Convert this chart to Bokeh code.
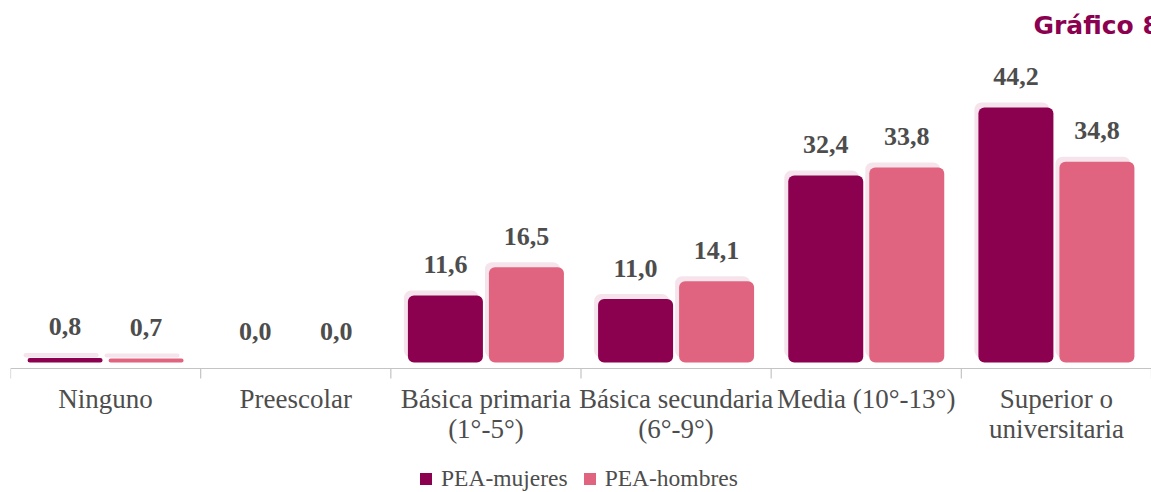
from bokeh.plotting import figure
from bokeh.models import Range1d, ColumnDataSource, Legend, LegendItem, Label, Span
from bokeh.core.properties import value
from bokeh.embed import file_html
from bokeh.resources import INLINE

# ---- data ----
categories = ["Ninguno", "Preescolar", "Básica primaria\n(1°-5°)",
              "Básica secundaria\n(6°-9°)", "Media (10°-13°)", "Superior o\nuniversitaria"]
mujeres = [0.8, 0.0, 11.6, 11.0, 32.4, 44.2]
hombres = [0.7, 0.0, 16.5, 14.1, 33.8, 34.8]
series_names = ["PEA-mujeres", "PEA-hombres"]
colors = ["#8c0050", "#e0647f"]
shadow_color = "#f6e4ec"
text_color = "#4d4d4d"
axis_color = "#c4c4c4"
serif = "Liberation Serif"

FW, FH = 1141, 484
PX_Y = 5.769                      # pixels per percentage point
Y1 = 354 / PX_Y                   # headroom above zero
Y0 = -130 / PX_Y                  # room below zero for axis, labels and legend
n = len(categories)
px_x = FW / n
px_y = FH / (Y1 - Y0)

p = figure(frame_width=FW, frame_height=FH, x_range=Range1d(0, n), y_range=Range1d(Y0, Y1),
           output_backend="svg", toolbar_location=None,
           x_axis_location=None, y_axis_location=None,
           min_border_left=10, min_border_right=0, min_border_top=8, min_border_bottom=0)
p.outline_line_color = None
p.xgrid.grid_line_color = None
p.ygrid.grid_line_color = None
p.background_fill_color = "white"
p.border_fill_color = "white"

centers = [i + 0.5 for i in range(n)]
bounds = [i for i in range(n + 1)]
off = 40.5 / px_x
bw = 75 / px_x
sx = 4 / px_x
sy = 5 / px_y
axis_y = -6 / px_y

# category axis: baseline, boundary ticks and labels
p.add_layout(Span(location=axis_y, dimension="width", line_color=axis_color, line_width=1.2))
p.segment(x0=bounds, y0=[axis_y] * len(bounds), x1=bounds, y1=[axis_y - 10 / px_y] * len(bounds),
          line_color=axis_color, line_width=1.2)
p.text(x=centers, y=[axis_y] * n, text=categories, y_offset=15,
       text_align="center", text_baseline="top", text_line_height=1.0,
       text_font=value(serif), text_font_size="27px", text_color=text_color)

renderers = []
for k, vals in enumerate([mujeres, hombres]):
    xs = [c + (-off if k == 0 else off) for c in centers]
    src = ColumnDataSource(dict(
        x=xs, top=vals,
        sx=[x - sx for x in xs], stop=[v + sy for v in vals], sbot=[sy for _ in vals],
        lbl=[f"{v:.1f}".replace(".", ",") for v in vals]))
    p.vbar(x="sx", top="stop", bottom="sbot", width=bw, source=src,
           fill_color=shadow_color, line_color=None, border_radius=7)
    r = p.vbar(x="x", top="top", bottom=0, width=bw, source=src,
               fill_color=colors[k], line_color=None, border_radius=6)
    renderers.append(r)
    p.text(x="x", y="top", text="lbl", source=src, y_offset=-31,
           text_align="center", text_baseline="alphabetic",
           text_font=value(serif), text_font_style="bold",
           text_font_size="26px", text_color=text_color)

legend = Legend(items=[LegendItem(label=series_names[i], renderers=[renderers[i]]) for i in range(2)],
                orientation="horizontal", location=(408, 0),
                label_text_font=serif, label_text_font_size="23.5px", label_text_color=text_color,
                glyph_width=15, glyph_height=15, label_standoff=8, spacing=14,
                label_height=20,
                border_line_color=None, background_fill_alpha=0, padding=0, margin=0)
p.add_layout(legend, "center")

p.add_layout(Label(x=1023 / px_x, y=Y1 - 31 / px_y, text="Gráfico 8",
                   text_font="DejaVu Sans", text_font_style="bold", text_font_size="25px",
                   text_color="#8c0050"))

open("out.html", "w").write(file_html(p, INLINE))
